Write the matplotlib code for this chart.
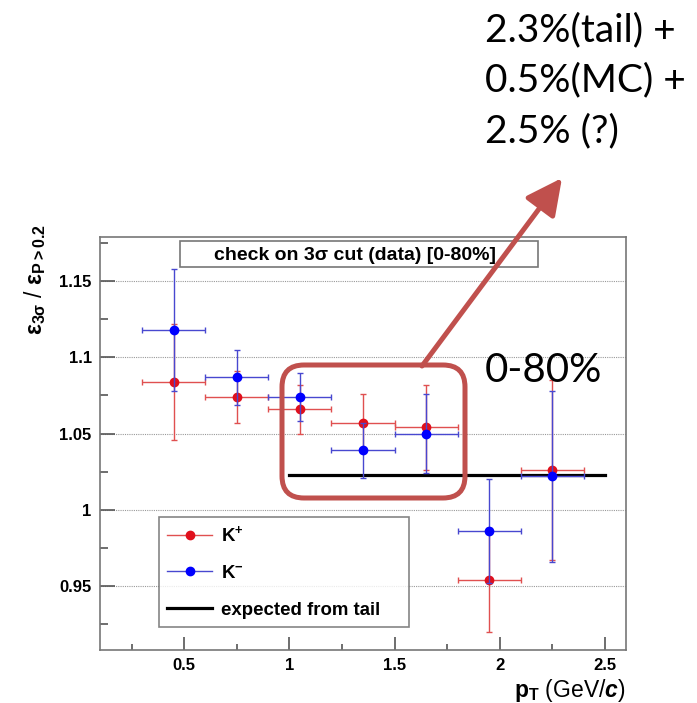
import matplotlib
matplotlib.use('Agg')
import matplotlib.pyplot as plt
from matplotlib.lines import Line2D
from matplotlib.patches import FancyBboxPatch, FancyArrowPatch, Rectangle
from matplotlib.transforms import Affine2D

# efficiency ratio eps(3 sigma) / eps(P > 0.2) per pT bin, 0-80% centrality
pt = [0.45, 0.75, 1.05, 1.35, 1.65, 1.95, 2.25]
pt_err = [0.15, 0.15, 0.15, 0.15, 0.15, 0.15, 0.15]
kplus = [1.084, 1.074, 1.066, 1.057, 1.054, 0.954, 1.026]
kplus_err = [0.038, 0.017, 0.016, 0.019, 0.028, 0.034, 0.059]
kminus = [1.118, 1.087, 1.074, 1.039, 1.050, 0.986, 1.022]
kminus_err = [0.040, 0.018, 0.016, 0.018, 0.026, 0.034, 0.056]

tail_range = [1.0, 2.5]
tail_level = 1.023

note_lines = ['2.3%(tail) +', '0.5%(MC) +', '2.5% (?)']
centrality = '0-80%'

plt.rcParams['font.family'] = ['Liberation Sans', 'DejaVu Sans']
plt.rcParams['font.weight'] = 'bold'
plt.rcParams['mathtext.fontset'] = 'custom'
plt.rcParams['mathtext.rm'] = 'Liberation Sans:bold'
plt.rcParams['mathtext.bf'] = 'Liberation Sans:bold'
plt.rcParams['mathtext.sf'] = 'Liberation Sans:bold'
plt.rcParams['mathtext.it'] = 'Liberation Sans:bold:italic'
plt.rcParams['mathtext.default'] = 'rm'

W, H = 697, 703
fig = plt.figure(figsize=(W / 100, H / 100), dpi=100)
# pixel coordinates measured from the top-left corner of the figure
px = Affine2D().scale(1 / W, -1 / H).translate(0, 1) + fig.transFigure

ax = fig.add_axes([100 / W, 1 - 650 / H, 526 / W, 413 / H])
ax.set_xlim(0.1, 2.6)
ax.set_ylim(0.908, 1.179)

ax.set_yticks([0.95, 1.0, 1.05, 1.1, 1.15])
ax.set_yticklabels(['0.95', '1', '1.05', '1.1', '1.15'])
ax.set_yticks([0.925, 0.975, 1.025, 1.075, 1.125, 1.175], minor=True)
ax.set_xticks([0.5, 1.0, 1.5, 2.0, 2.5])
ax.set_xticklabels(['0.5', '1', '1.5', '2', '2.5'])
ax.set_xticks([0.25, 0.75, 1.25, 1.75, 2.25], minor=True)

ax.tick_params(which='both', direction='in', colors='#555555', labelcolor='black',
               labelsize=12, width=1.2)
ax.tick_params(axis='y', which='major', length=11, pad=6)
ax.tick_params(axis='y', which='minor', length=6)
ax.tick_params(axis='x', which='major', length=9.5, pad=6)
ax.tick_params(axis='x', which='minor', length=4.5)
for spine in ax.spines.values():
    spine.set_color('#777777')
    spine.set_linewidth(1.2)

ax.grid(axis='y', which='major', linestyle=(0, (1, 1)), color='#999999', lw=0.8)
ax.set_axisbelow(True)

ax.plot(tail_range, [tail_level, tail_level], color='black', lw=2.3, zorder=3)

ax.errorbar(pt, kplus, xerr=pt_err, yerr=kplus_err, fmt='o', color='#e0101c',
            ecolor='#e05050', elinewidth=1.0, capsize=2, capthick=1.0,
            markersize=6, zorder=4)
ax.errorbar(pt, kminus, xerr=pt_err, yerr=kminus_err, fmt='o', color='#0000ff',
            ecolor='#4848d0', elinewidth=1.0, capsize=2, capthick=1.0,
            markersize=6, zorder=5)

ax.set_ylabel(r'$ε_{3σ}$ / $ε_{P>0.2}$', fontsize=16.5, va='center')
ax.yaxis.set_label_coords(-0.124, 0.898)
ax.set_xlabel(r'$p_{T}$ (GeV/$\mathit{c}$)', fontsize=16.5)
ax.xaxis.set_label_coords(1.0, -0.065)
ax.xaxis.label.set_ha('right')

handles = [
    Line2D([], [], color='#e05050', marker='o', markerfacecolor='#e0101c',
           markeredgecolor='#e0101c', markersize=6, lw=1.0),
    Line2D([], [], color='#4848d0', marker='o', markerfacecolor='#0000ff',
           markeredgecolor='#0000ff', markersize=6, lw=1.0),
    Line2D([], [], color='black', lw=2.3),
]
leg = ax.legend(handles, [r'K$^{+}$', r'K$^{-}$', 'expected from tail'],
                loc='upper left', bbox_to_anchor=(0.112, 0.322, 0.475, 0.0),
                mode='expand', borderaxespad=0, fontsize=13.4, frameon=True,
                fancybox=False, labelspacing=1.05, borderpad=0.45,
                handlelength=2.4, handletextpad=0.5)
leg.get_frame().set_edgecolor('#666666')
leg.get_frame().set_linewidth(1.2)

# title box
fig.patches.append(Rectangle((180, 241), 358, 26, transform=px, fill=True,
                             fc='white', ec='#777777', lw=1.2, zorder=6))
fig.text(355, 255, 'check on 3σ cut (data) [0-80%]', transform=px,
         ha='center', va='center', fontsize=14, fontweight='bold', zorder=7)

# highlight around the bins close to the tail expectation
red = '#c0504d'
fig.patches.append(FancyBboxPatch((282, 365), 183, 133, transform=px,
                                  boxstyle='round,pad=0,rounding_size=22',
                                  fill=False, ec=red, lw=3.6, zorder=8))
fig.patches.append(FancyArrowPatch((422, 366), (562, 178), transform=px,
                                   arrowstyle='-|>,head_length=1.1,head_width=0.55',
                                   mutation_scale=20, color=red, lw=3.6,
                                   shrinkA=0, shrinkB=0, zorder=8))

for i, line in enumerate(note_lines):
    fig.text(485, 41 + 50.5 * i, line, transform=px, family='Lato',
             fontweight='normal', fontsize=28, va='baseline', ha='left')
fig.text(485, 382, centrality, transform=px, family='Lato',
         fontweight='normal', fontsize=29, va='baseline', ha='left', zorder=9)

fig.savefig('out.png', dpi=100)
